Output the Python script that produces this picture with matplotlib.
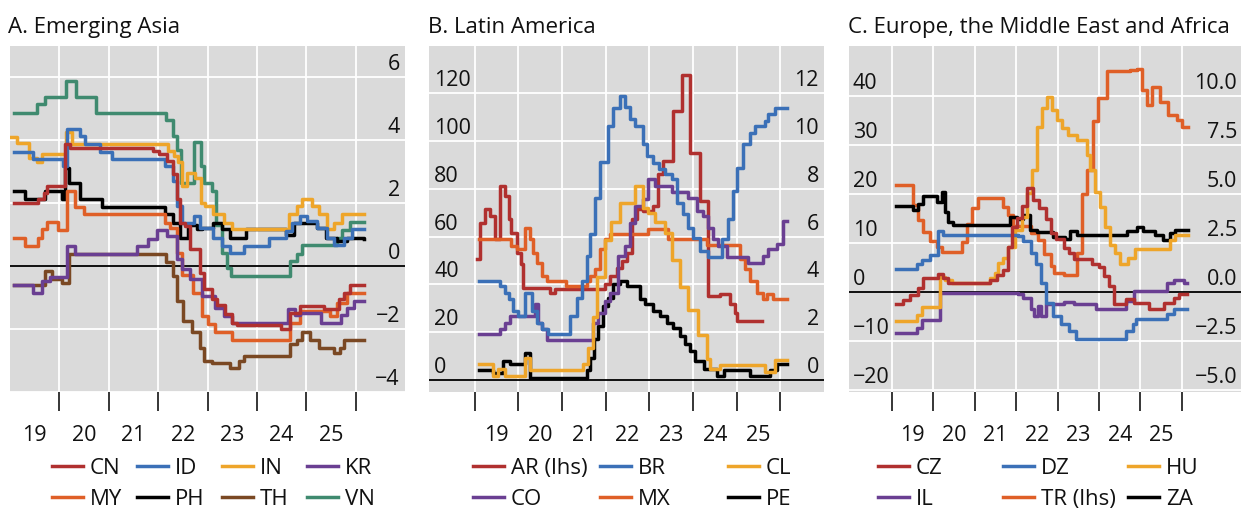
import matplotlib
matplotlib.use('Agg')
import matplotlib.pyplot as plt
from matplotlib.transforms import offset_copy

plt.rcParams['font.family'] = ['Open Sans', 'DejaVu Sans']
plt.rcParams['font.size'] = 16

W, H = 1241, 509
BG = '#dadada'
TXT = '#111111'
RED = '#b0302f'
BLUE = '#3b70b7'
YEL = '#eea52a'
PURP = '#6a3f92'
ORG = '#df5f27'
BLK = '#000000'
BRN = '#7a4823'
GRN = '#3f8a6f'

# ---- A. Emerging Asia (one scale) : (year, value) step points
CN = [(2019.08, 2.0), (2019.57, 2.14), (2019.68, 2.33), (2019.74, 2.55), (2020.12, 3.87), (2020.22, 3.74),
      (2021.9, 3.66), (2022.01, 3.56), (2022.18, 3.34), (2022.31, 2.92), (2022.38, 2.12), (2022.45, 1.38),
      (2022.55, 1.27), (2022.65, 0.55), (2022.85, -0.21), (2022.92, -0.74), (2023.09, -1.06), (2023.19, -1.25),
      (2023.36, -1.54), (2023.5, -1.8), (2023.6, -1.89), (2024.48, -2.02), (2024.68, -1.49), (2024.88, -1.27),
      (2025.35, -1.38), (2025.66, -1.06), (2025.76, -0.85), (2025.89, -0.62), (2026.16, -0.62)]
ID = [(2019.08, 3.63), (2019.47, 3.40), (2020.08, 3.18), (2020.15, 4.37), (2020.42, 4.14), (2020.52, 3.87),
      (2020.82, 3.63), (2021.06, 3.40), (2022.14, 3.18), (2022.31, 2.7), (2022.38, 1.9), (2022.48, 1.38),
      (2022.72, 1.59), (2022.85, 1.22), (2023.12, 0.9), (2023.29, 0.64), (2023.46, 0.42), (2023.73, 0.64),
      (2024.24, 0.9), (2024.58, 1.11), (2024.71, 1.38), (2024.88, 1.59), (2025.02, 1.43), (2025.22, 1.22),
      (2025.42, 0.9), (2025.56, 0.66), (2025.76, 0.9), (2025.93, 1.17), (2026.16, 1.17)]
IN = [(2019.03, 4.1), (2019.15, 3.9), (2019.38, 3.45), (2019.54, 3.3), (2019.64, 3.56), (2020.13, 4.27),
      (2020.26, 3.88), (2022.2, 3.66), (2022.33, 3.5), (2022.41, 3.3), (2022.48, 2.55), (2022.58, 2.97),
      (2022.75, 2.8), (2022.87, 2.0), (2022.95, 1.9), (2023.12, 1.65), (2023.33, 1.38), (2023.5, 1.17),
      (2024.65, 1.65), (2024.81, 1.91), (2024.92, 2.14), (2025.12, 1.91), (2025.25, 1.65), (2025.42, 1.17),
      (2025.56, 1.38), (2025.73, 1.65), (2026.16, 1.65)]
KR = [(2019.08, -0.62), (2019.47, -0.85), (2019.64, -0.48), (2019.81, -0.34), (2020.15, 0.64), (2020.32, 0.37),
      (2021.57, 0.64), (2021.8, 0.87), (2021.97, 1.15), (2022.18, 0.95), (2022.38, 0.21), (2022.48, -0.1),
      (2022.65, -0.42), (2022.885, -0.96), (2023.16, -1.33), (2023.33, -1.59), (2023.5, -1.83), (2024.64, -1.38),
      (2024.78, -1.55), (2024.88, -1.49), (2025.29, -1.8), (2025.7, -1.55), (2025.83, -1.33), (2025.96, -1.11),
      (2026.16, -1.11)]
MY = [(2019.08, 0.88), (2019.3, 0.64), (2019.57, 0.9), (2019.64, 1.17), (2019.74, 1.4), (2019.98, 1.15),
      (2020.15, 2.39), (2020.32, 1.89), (2020.49, 1.65), (2022.14, 1.38), (2022.24, 1.2), (2022.38, 0.42),
      (2022.48, -0.3), (2022.7, -0.85), (2022.885, -1.59), (2023.02, -1.86), (2023.16, -2.1), (2023.5, -2.36),
      (2024.68, -1.8), (2024.88, -1.43), (2025.49, -1.59), (2025.625, -1.17), (2025.83, -0.85), (2026.16, -0.85)]
PH = [(2019.08, 2.39), (2019.3, 2.14), (2019.71, 2.39), (2020.05, 2.12), (2020.12, 3.13), (2020.2, 2.65),
      (2020.42, 2.14), (2020.86, 1.88), (2022.14, 1.65), (2022.31, 1.38), (2022.45, 0.9), (2022.61, 1.3),
      (2022.78, 1.19), (2022.885, 1.22), (2023.12, 1.38), (2023.29, 1.17), (2023.46, 0.9), (2023.77, 1.17),
      (2024.58, 1.0), (2024.75, 1.38), (2025.22, 1.22), (2025.39, 0.9), (2025.62, 0.8), (2025.83, 0.9),
      (2026.16, 0.87)]
TH = [(2019.08, -0.62), (2019.71, -0.16), (2019.86, -0.4), (2020.05, -0.55), (2020.2, 0.37), (2022.16, 0.13),
      (2022.31, -0.32), (2022.38, -1.11), (2022.51, -1.75), (2022.68, -2.1), (2022.85, -2.6), (2022.92, -3.03),
      (2023.09, -3.08), (2023.46, -3.26), (2023.63, -3.03), (2023.73, -2.87), (2024.68, -2.49), (2024.81, -2.34),
      (2024.92, -2.1), (2025.08, -2.34), (2025.25, -2.6), (2025.56, -2.78), (2025.69, -2.6), (2025.76, -2.36),
      (2026.16, -2.36)]
VN = [(2019.08, 4.88), (2019.54, 5.15), (2019.71, 5.39), (2020.135, 5.89), (2020.34, 5.39), (2020.74, 4.88),
      (2022.16, 4.65), (2022.31, 4.14), (2022.39, 3.7), (2022.46, 2.65), (2022.72, 3.93), (2022.865, 3.18),
      (2022.935, 2.65), (2023.09, 2.39), (2023.18, 1.3), (2023.29, 0.42), (2023.39, -0.05), (2023.475, -0.32),
      (2024.68, 0.16), (2024.81, 0.37), (2024.91, 0.66), (2025.62, 0.9), (2025.73, 1.14), (2025.89, 1.4),
      (2026.16, 1.4)]

# ---- B. Latin America: AR on lhs, the rest on rhs
AR = [(2019.05, 50.5), (2019.115, 65.8), (2019.23, 71.4), (2019.344, 68.6), (2019.46, 58.9), (2019.573, 81.2),
      (2019.688, 77), (2019.787, 67.2), (2019.84, 61.6), (2019.956, 53.3), (2020.047, 48.4), (2020.11, 38.6),
      (2020.72, 36.5), (2020.835, 38.2), (2021.98, 40), (2022.096, 43.5), (2022.25, 47), (2022.364, 49.8),
      (2022.48, 53.3), (2022.593, 67.2), (2022.71, 71.4), (2022.863, 70.7), (2023.09, 72.8), (2023.206, 86),
      (2023.32, 91.6), (2023.55, 112.6), (2023.74, 127.5), (2023.93, 95.1), (2024.16, 74.9), (2024.35, 35.1),
      (2024.62, 35.8), (2024.85, 31.7), (2024.95, 28.2), (2025.0, 24.7), (2025.57, 24.7)]
BR = [(2019.1, 4.14), (2019.573, 3.93), (2019.688, 3.65), (2019.787, 3.38), (2019.88, 2.89), (2019.994, 2.68),
      (2020.147, 3.65), (2020.3, 2.89), (2020.414, 2.4), (2020.53, 2.12), (2020.68, 1.91), (2021.18, 2.68),
      (2021.33, 3.44), (2021.447, 4.14), (2021.56, 5.19), (2021.64, 6.09), (2021.75, 7.63), (2021.87, 9.12),
      (2022.06, 10.63), (2022.17, 11.39), (2022.326, 11.88), (2022.44, 11.4), (2022.555, 10.9), (2022.67, 10.63),
      (2022.863, 9.86), (2022.94, 9.37), (2023.09, 9.09), (2023.21, 8.81), (2023.36, 8.6), (2023.51, 8.4),
      (2023.626, 7.42), (2023.78, 6.93), (2023.893, 6.37), (2024.008, 5.96), (2024.16, 5.4), (2024.35, 5.16),
      (2024.656, 5.89), (2024.81, 6.72), (2024.924, 7.91), (2025.0, 8.88), (2025.153, 9.86), (2025.305, 10.35),
      (2025.42, 10.63), (2025.65, 10.85), (2025.725, 11.12), (2025.878, 11.39), (2026.145, 11.39)]
CL = [(2019.1, 0.66), (2019.42, 0.17), (2019.53, 0.45), (2019.69, 0.17), (2020.15, 0.93), (2020.26, 0.42),
      (2021.48, 0.66), (2021.6, 1.35), (2021.71, 2.65), (2021.81, 4.3), (2021.98, 5.86), (2022.13, 6.62),
      (2022.32, 7.39), (2022.67, 8.1), (2022.86, 7.2), (2022.97, 6.97), (2023.13, 6.62), (2023.36, 6.16),
      (2023.51, 5.02), (2023.70, 3.9), (2023.89, 2.93), (2024.12, 1.88), (2024.31, 0.9), (2024.39, 0.45),
      (2024.62, 0.64), (2025.65, 0.35), (2025.88, 0.84), (2026.15, 0.84)]
CO = [(2019.1, 1.91), (2019.573, 2.12), (2019.688, 2.4), (2019.8, 2.68), (2020.376, 3.17), (2020.45, 2.4),
      (2020.53, 2.12), (2020.644, 1.67), (2021.714, 2.4), (2021.83, 2.82), (2021.98, 3.3), (2022.096, 3.65),
      (2022.287, 5.19), (2022.44, 5.6), (2022.555, 6.58), (2022.67, 7.28), (2022.863, 7.56), (2022.977, 8.4),
      (2023.13, 8.12), (2023.51, 7.87), (2023.893, 7.63), (2024.084, 7.07), (2024.237, 6.86), (2024.35, 6.37),
      (2024.466, 5.89), (2024.58, 5.6), (2024.77, 5.16), (2025.267, 4.91), (2025.61, 5.2), (2025.725, 5.47),
      (2025.916, 5.68), (2026.07, 6.65), (2026.145, 6.65)]
MX = [(2019.1, 5.91), (2019.84, 5.6), (2019.956, 5.47), (2020.147, 6.37), (2020.26, 5.89), (2020.338, 5.33),
      (2020.414, 4.91), (2020.53, 4.35), (2020.644, 4.14), (2021.1, 3.93), (2021.56, 4.14), (2021.64, 4.35),
      (2021.75, 4.63), (2021.87, 5.47), (2021.98, 5.89), (2022.1, 6.1), (2022.97, 6.3), (2023.43, 5.89),
      (2024.31, 5.63), (2025.076, 5.05), (2025.19, 4.63), (2025.305, 4.14), (2025.458, 3.65), (2025.6, 3.4),
      (2025.687, 3.6), (2025.84, 3.4), (2026.145, 3.4)]
PE = [(2019.1, 0.42), (2019.42, 0.3), (2019.65, 0.8), (2019.8, 0.66), (2020.147, 1.12), (2020.26, 0.1),
      (2021.56, 0.4), (2021.64, 0.93), (2021.73, 1.7), (2021.83, 2.26), (2021.94, 3.1), (2022.06, 3.44),
      (2022.17, 4.0), (2022.326, 4.14), (2022.48, 3.93), (2022.786, 3.38), (2022.9, 3.17), (2023.09, 2.89),
      (2023.24, 2.68), (2023.4, 2.4), (2023.55, 2.19), (2023.7, 1.84), (2023.82, 1.49), (2023.93, 1.21),
      (2024.05, 0.8), (2024.24, 0.45), (2024.54, 0.17), (2024.7, 0.4), (2025.3, 0.17), (2025.76, 0.4),
      (2025.92, 0.66), (2026.145, 0.66)]

# ---- C. Europe, the Middle East and Africa: TR on lhs, the rest on rhs
TR = [(2019.09, 21.8), (2019.515, 17.8), (2019.636, 14.7), (2019.757, 12.3), (2019.918, 10.4), (2020.08, 9.25),
      (2020.2, 8.2), (2020.68, 10.3), (2020.8, 13.8), (2020.92, 17.1), (2021.085, 19.1), (2021.69, 17.4),
      (2021.81, 15.7), (2021.92, 13.5), (2022.36, 12.1), (2022.52, 10.7), (2022.68, 7.7), (2022.84, 5.3),
      (2022.92, 3.9), (2023.16, 3.4), (2023.46, 7.9), (2023.58, 20.1), (2023.70, 24.9), (2023.86, 34.8),
      (2023.98, 39.5), (2024.19, 45.0), (2024.75, 45.3), (2024.91, 45.6), (2025.03, 41.2), (2025.15, 38.2),
      (2025.27, 41.9), (2025.47, 38.8), (2025.67, 36.1), (2025.88, 35.1), (2026.0, 33.7), (2026.16, 33.7)]
CZ = [(2019.09, -0.61), (2019.27, -0.41), (2019.43, -0.15), (2019.636, 0.19), (2019.757, 0.7), (2020.12, 0.92),
      (2020.24, 0.7), (2020.36, 0.48), (2021.37, 0.61), (2021.53, 0.87), (2021.69, 1.12), (2021.81, 2.31),
      (2021.89, 3.3), (2022.01, 3.8), (2022.13, 4.4), (2022.25, 5.3), (2022.4, 4.7), (2022.56, 4.3),
      (2022.72, 3.7), (2022.84, 3.0), (2022.96, 2.68), (2023.16, 2.26), (2023.28, 2.0), (2023.4, 1.66),
      (2023.84, 1.41), (2024.0, 1.3), (2024.12, 0.81), (2024.245, 0.31), (2024.365, -0.63), (2024.65, -0.37),
      (2024.85, -0.54), (2025.21, -0.88), (2025.57, -0.54), (2025.81, -0.29), (2025.93, -0.12), (2026.13, -0.12)]
DZ = [(2019.1, 1.15), (2019.6, 1.41), (2019.72, 1.63), (2019.92, 1.87), (2020.12, 3.1), (2020.24, 2.89),
      (2022.04, 2.85), (2022.16, 2.6), (2022.36, 2.0), (2022.48, 1.41), (2022.6, 0.48), (2022.72, -0.54),
      (2022.88, -1.22), (2023.08, -1.65), (2023.28, -1.99), (2023.44, -2.38), (2024.65, -1.99), (2024.81, -1.65),
      (2024.89, -1.39), (2025.65, -1.14), (2025.81, -0.88), (2026.13, -0.88)]
HU = [(2019.09, -1.48), (2019.6, -1.17), (2019.72, -0.75), (2020.16, 0.78), (2020.28, 0.61), (2020.44, 0.44),
      (2021.37, 0.7), (2021.49, 0.95), (2021.57, 1.46), (2021.69, 1.72), (2021.81, 2.31), (2021.97, 3.16),
      (2022.13, 3.84), (2022.25, 5.03), (2022.37, 6.22), (2022.49, 8.43), (2022.62, 9.37), (2022.74, 9.97),
      (2022.86, 9.29), (2022.98, 8.78), (2023.1, 8.35), (2023.26, 8.0), (2023.46, 7.76), (2023.7, 6.99),
      (2023.78, 6.22), (2023.9, 5.12), (2024.02, 4.35), (2024.14, 3.33), (2024.27, 2.4), (2024.39, 1.97),
      (2024.51, 1.45), (2024.71, 1.72), (2024.87, 2.2), (2025.71, 2.65), (2025.84, 2.91), (2026.16, 2.91)]
IL = [(2019.1, -2.07), (2019.6, -1.82), (2019.72, -1.43), (2020.16, -0.03), (2022.04, -0.1), (2022.16, -0.29),
      (2022.36, -0.88), (2022.44, -1.2), (2022.52, -0.7), (2022.6, -1.2), (2022.72, -0.63), (2023.16, -0.5),
      (2023.4, -0.63), (2023.92, -0.88), (2024.65, -0.46), (2024.85, 0.05), (2025.65, 0.44), (2025.81, 0.62),
      (2026.05, 0.44), (2026.13, 0.44)]
ZA = [(2019.09, 4.4), (2019.515, 4.18), (2019.636, 4.5), (2019.757, 4.9), (2020.08, 4.6), (2020.2, 5.12),
      (2020.28, 4.1), (2020.36, 3.59), (2020.48, 3.42), (2021.85, 3.84), (2022.01, 3.7), (2022.17, 3.93),
      (2022.33, 3.16), (2022.49, 3.08), (2022.9, 2.82), (2023.18, 2.7), (2023.3, 3.13), (2023.46, 2.91),
      (2024.67, 3.13), (2024.91, 3.3), (2025.07, 3.13), (2025.35, 2.91), (2025.55, 2.65), (2025.71, 3.0),
      (2025.84, 3.16), (2026.16, 3.16)]

year_labels = ['19', '20', '21', '22', '23', '24', '25']
FS = 16      # titles / legend
FS_TICK = 15.5


def px_axes(left, right, top=46, bottom=392):
    return [left / W, (H - bottom) / H, (right - left) / W, (bottom - top) / H]


def step(ax, pts, color, label):
    t = [p[0] for p in pts]
    v = [p[1] for p in pts]
    ln, = ax.step(t, v, where='post', color=color, lw=2.5, label=label)
    return ln


def base(ax, xlim, ylim, ygrid, first_tick):
    ax.set_facecolor(BG)
    for s in ax.spines.values():
        s.set_visible(False)
    ax.set_xlim(*xlim)
    ax.set_ylim(*ylim)
    ax.set_xticks(list(range(first_tick, 2027)))
    ax.set_xticklabels([])
    ax.set_xticks([2019.5 + i for i in range(7)], minor=True)
    ax.set_xticklabels(year_labels, minor=True)
    ax.tick_params(axis='x', which='major', length=13.5, width=1.1, color='black', direction='out')
    ax.tick_params(axis='x', which='minor', length=0, pad=24, labelsize=FS_TICK, labelcolor=TXT)
    ax.set_yticks(ygrid)
    ax.set_yticklabels([])
    ax.tick_params(axis='y', length=0)
    ax.grid(True, which='major', color='white', lw=1.3)
    ax.set_axisbelow(True)
    ax.axhline(0, color='black', lw=1.3, zorder=1.5)


def ylabels(ax, vals, texts, x, ha):
    tr = offset_copy(ax.get_yaxis_transform(), fig=fig, x=0, y=7, units='dots')
    for v, s in zip(vals, texts):
        ax.text(x, v, s, transform=tr, ha=ha, va='baseline', fontsize=FS_TICK, color=TXT)


def twin(ax, ylim):
    ax2 = ax.twinx()
    ax2.set_ylim(*ylim)
    ax2.set_yticks([])
    for s in ax2.spines.values():
        s.set_visible(False)
    return ax2


def legend_cols(columns, xs):
    # one small legend per column so the columns sit where the original puts them
    for col, x in zip(columns, xs):
        fig.legend(handles=col, loc='upper left', bbox_to_anchor=(x / W, 1 - 458 / H),
                   frameon=False, handlelength=1.4, handletextpad=0.3, borderaxespad=0,
                   borderpad=0, labelspacing=0.45, fontsize=FS, labelcolor=TXT)


fig = plt.figure(figsize=(W / 100, H / 100), dpi=100)

# Panel A
axA = fig.add_axes(px_axes(10, 405))
base(axA, (2019, 2027), (-4.01, 7.0), [-4, -2, 2, 4, 6], 2020)
ylabels(axA, [6, 4, 2, 0, -2, -4], ['6', '4', '2', '0', '\u22122', '\u22124'], 0.987, 'right')
a_series = [('CN', CN, RED), ('ID', ID, BLUE), ('IN', IN, YEL), ('KR', KR, PURP),
            ('MY', MY, ORG), ('PH', PH, BLK), ('TH', TH, BRN), ('VN', VN, GRN)]
h = {}
for name, pts, col in a_series[::-1]:
    h[name] = step(axA, pts, col, name)
legend_cols([[h['CN'], h['MY']], [h['ID'], h['PH']], [h['IN'], h['TH']], [h['KR'], h['VN']]],
            [52, 137, 222, 307])

# Panel B
axB = fig.add_axes(px_axes(429, 824))
base(axB, (2017.95, 2027), (-5, 139.7), [20, 40, 60, 80, 100, 120], 2019)
axB2 = twin(axB, (-0.5, 13.97))
ylabels(axB, [120, 100, 80, 60, 40, 20, 0], ['120', '100', '80', '60', '40', '20', '0'], 0.013, 'left')
ylabels(axB2, [12, 10, 8, 6, 4, 2, 0], ['12', '10', '8', '6', '4', '2', '0'], 0.987, 'right')
h = {'AR (lhs)': step(axB, AR, RED, 'AR (lhs)')}
for name, pts, col in [('PE', PE, BLK), ('MX', MX, ORG), ('CO', CO, PURP), ('CL', CL, YEL), ('BR', BR, BLUE)]:
    h[name] = step(axB2, pts, col, name)
legend_cols([[h['AR (lhs)'], h['CO']], [h['BR'], h['MX']], [h['CL'], h['PE']]], [473, 600, 728])

# Panel C
axC = fig.add_axes(px_axes(849, 1241))
base(axC, (2017.96, 2027.43), (-20.4, 50.2), [-20, -10, 10, 20, 30, 40], 2019)
axC2 = twin(axC, (-5.1, 12.55))
ylabels(axC, [40, 30, 20, 10, 0, -10, -20], ['40', '30', '20', '10', '0', '\u221210', '\u221220'], 0.01, 'left')
ylabels(axC2, [10, 7.5, 5, 2.5, 0, -2.5, -5], ['10.0', '7.5', '5.0', '2.5', '0.0', '\u22122.5', '\u22125.0'],
        0.99, 'right')
h = {'TR (lhs)': step(axC, TR, ORG, 'TR (lhs)')}
for name, pts, col in [('ZA', ZA, BLK), ('IL', IL, PURP), ('HU', HU, YEL), ('DZ', DZ, BLUE), ('CZ', CZ, RED)]:
    h[name] = step(axC2, pts, col, name)
legend_cols([[h['CZ'], h['IL']], [h['DZ'], h['TR (lhs)']], [h['HU'], h['ZA']]], [878, 1003, 1128])

# panel titles
for x, s in [(8, 'A. Emerging Asia'), (428, 'B. Latin America'), (848, 'C. Europe, the Middle East and Africa')]:
    fig.text(x / W, 1 - 33 / H, s, ha='left', va='baseline', fontsize=FS, color=TXT)

fig.savefig('out.png', dpi=100)
